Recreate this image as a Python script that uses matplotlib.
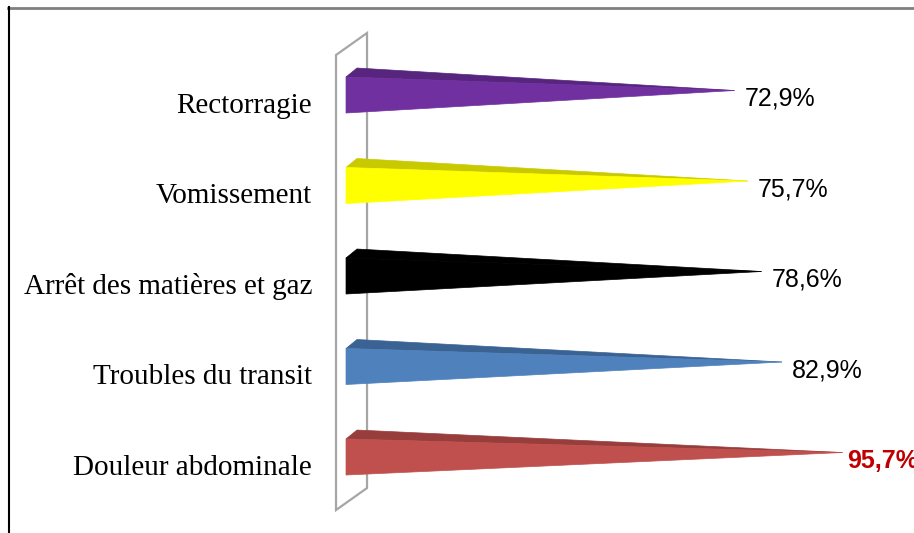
import matplotlib

matplotlib.use("Agg")
import matplotlib.pyplot as plt
from matplotlib.lines import Line2D
from matplotlib.patches import Polygon

categories = ["Rectorragie", "Vomissement", "Arrêt des matières et gaz",
              "Troubles du transit", "Douleur abdominale"]
values = [72.9, 75.7, 78.6, 82.9, 95.7]
value_labels = ["72,9%", "75,7%", "78,6%", "82,9%", "95,7%"]

front_colors = ["#7030a0", "#ffff00", "#000000", "#4f81bd", "#c0504d"]
top_colors = ["#57247e", "#c9c900", "#000000", "#3a6293", "#973d3b"]

W, H, DPI = 914, 533, 100

# pyramid geometry (x in percent units, y in row units)
BASE_X = -9.07        # left face of every pyramid
HALF_H = 0.199        # half height of the front face
DEPTH = (2.32, -0.099)  # receding edge of the square base
WALL_X = (-11.18, -4.64)
WALL_Y = (-0.442, 4.586, -0.685, 4.343)

fig = plt.figure(figsize=(W / DPI, H / DPI), dpi=DPI)
ax = fig.add_axes([0, 0, 1, 1])
ax.set_xlim(-82.07, 110.76)
ax.set_ylim(4.8398, -1.0497)
ax.axis("off")

# side wall of the 3D plot
x0, x1 = WALL_X
yt0, yb0, yt1, yb1 = WALL_Y
ax.add_patch(Polygon([(x0, yt0), (x1, yt1), (x1, yb1), (x0, yb0)], closed=True,
                     facecolor="white", edgecolor="#a6a6a6", lw=1.6, zorder=1))

for i, (cat, v, lab, fc, tc) in enumerate(zip(categories, values, value_labels,
                                              front_colors, top_colors)):
    top, bot = i - HALF_H, i + HALF_H
    apex = (v, i + DEPTH[1] / 2)
    # top face, then front face
    ax.add_patch(Polygon([(BASE_X, top), (BASE_X + DEPTH[0], top + DEPTH[1]), apex],
                         closed=True, facecolor=tc, edgecolor=tc, lw=0.5, zorder=2))
    ax.add_patch(Polygon([(BASE_X, top), (BASE_X, bot), apex],
                         closed=True, facecolor=fc, edgecolor=fc, lw=0.5, zorder=3))
    ax.text(-16.24, i + 0.12, cat, ha="right", va="center",
            family="Liberation Serif", fontsize=21, color="black")
    last = i == len(values) - 1
    ax.text(v + (0.9 if last else 2.1), i + 0.04, lab, ha="left", va="center",
            family="Liberation Sans", fontsize=18,
            color="#c00000" if last else "black",
            fontweight="bold" if last else "normal")

# outer frame: grey top edge, black left edge
fig.add_artist(Line2D([8 / W, 913 / W], [1 - 7.5 / H, 1 - 7.5 / H],
                      color="#808080", lw=2))
fig.add_artist(Line2D([8.5 / W, 8.5 / W], [0, 1 - 7 / H], color="black", lw=1.5))

fig.savefig("out.png", dpi=DPI)
